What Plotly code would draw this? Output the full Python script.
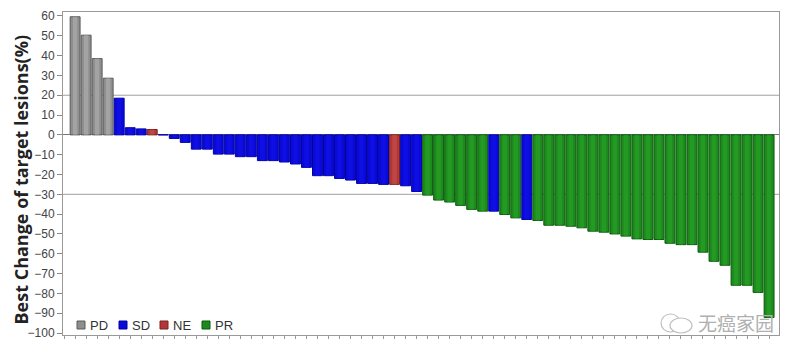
import plotly.graph_objects as go

# ---- data ----
values = [
    59.6, 50.3, 38.5, 28.6,
    18.5, 3.6, 3.0, 2.7, 0.0,
    -1.8, -3.8, -7.2, -7.2, -9.7, -9.7, -11.0, -11.0, -13.0, -13.0,
    -13.7, -14.7, -16.4, -20.6, -20.6, -22.0, -22.8, -24.5, -24.5, -25.0,
    -25.0, -25.7, -28.6,
    -30.4, -32.9, -33.9, -35.6, -37.6, -38.5, -38.5, -40.2, -41.9, -42.7,
    -43.2, -45.6, -45.6, -46.1, -46.9, -48.6, -49.1, -50.0, -51.1, -52.5,
    -52.8, -52.8, -54.7, -55.4, -55.4, -59.2, -63.8, -65.8, -75.9, -75.9,
    -79.5, -92.2,
]
response = (
    ["PD"] * 4
    + ["SD", "SD", "SD", "NE", "SD"]
    + ["SD"] * 20 + ["NE", "SD", "SD"]
    + ["PR"] * 6 + ["SD", "PR", "PR", "SD"] + ["PR"] * 22
)
patients = list(range(len(values)))
categories = ["PD", "SD", "NE", "PR"]
y_ticks = list(range(-100, 61, 10))
threshold_lines = [20, -30]

edge_colors = {"PD": "#5a5a5a", "SD": "#0000a8", "NE": "#7a2020", "PR": "#0b5a0b"}
fill_colors = {"PD": "#8e8e8e", "SD": "#0a0ad8", "NE": "#b23838", "PR": "#1d8a1d"}
light_colors = {"PD": "#b4b4b4", "SD": "#1414ee", "NE": "#cc5050", "PR": "#2aa82a"}

# page offset (default body margin) and plot-area geometry in page pixels
OFF = 8
W, H = 800 - 2 * OFF, 358 - 2 * OFF
PL, PR_, PT, PB = 63, 779, 12, 335
PW, PH = PR_ - PL, PB - PT

fig = go.Figure()
fig.add_trace(go.Bar(
    x=patients, y=values, width=0.9,
    marker=dict(color=[fill_colors[r] for r in response],
                line=dict(color=[edge_colors[r] for r in response], width=1)),
    showlegend=False, hoverinfo="skip",
))
fig.add_trace(go.Bar(
    x=patients, y=values, width=0.4,
    marker=dict(color=[light_colors[r] for r in response], line=dict(width=0),
                opacity=0.55),
    showlegend=False, hoverinfo="skip",
))

for t in threshold_lines:
    fig.add_hline(y=t, line=dict(color="#a0a0a0", width=1), layer="below")

# custom compact legend (bottom-left, inside plot)
leg_x = [77, 119, 160, 202]
for cat, lx in zip(categories, leg_x):
    x0 = (lx - PL) / PW
    fig.add_shape(type="rect", xref="paper", yref="paper",
                  x0=x0, x1=x0 + 8 / PW, y0=(PB - 329) / PH, y1=(PB - 321) / PH,
                  fillcolor=fill_colors[cat], line=dict(color=edge_colors[cat], width=1))
    fig.add_annotation(xref="paper", yref="paper", x=x0 + 11 / PW, y=(PB - 325) / PH,
                       text=cat, showarrow=False, xanchor="left", yanchor="middle",
                       font=dict(family="Liberation Sans, Arial", size=13, color="#333"))

# watermark
fig.add_shape(type="circle", xref="paper", yref="paper",
              x0=(661 - PL) / PW, x1=(680 - PL) / PW, y0=(PB - 332) / PH, y1=(PB - 314) / PH,
              line=dict(color="#c0c0c0", width=1.2), fillcolor="rgba(0,0,0,0)")
fig.add_shape(type="circle", xref="paper", yref="paper",
              x0=(670 - PL) / PW, x1=(692 - PL) / PW, y0=(PB - 333) / PH, y1=(PB - 318) / PH,
              line=dict(color="#c0c0c0", width=1.2), fillcolor="white")
fig.add_annotation(xref="paper", yref="paper", x=(696 - PL) / PW, y=(PB - 322) / PH,
                   text="无癌家园", showarrow=False, xanchor="left", yanchor="middle",
                   font=dict(family="Noto Sans CJK SC", size=19, color="#b0b0b0"))

# y-axis title as a rotated annotation
fig.add_annotation(xref="paper", yref="paper", x=(20.5 - PL) / PW, y=(PB - 180) / PH,
                   text="Best Change of target lesions(%)", showarrow=False, textangle=-90,
                   xanchor="center", yanchor="middle",
                   font=dict(family="Open Sans", size=18, color="#222", weight="bold"))

fig.update_layout(
    width=W, height=H,
    margin=dict(l=PL - OFF, r=W - (PR_ - OFF), t=PT - OFF, b=H - (PB - OFF),
                autoexpand=False),
    paper_bgcolor="white", plot_bgcolor="white",
    barmode="overlay", bargap=0.08,
    showlegend=False,
    font=dict(family="Liberation Sans, Arial", color="#444"),
)
fig.update_xaxes(
    range=[-1.1, 63.9], showgrid=False, zeroline=False, automargin=False,
    showline=True, linecolor="#999", linewidth=1, mirror=True,
    tickmode="linear", tick0=0, dtick=1, ticks="outside", ticklen=3,
    tickcolor="#999", showticklabels=False,
)
fig.update_yaxes(
    range=[-101, 62], tickvals=y_ticks, showgrid=False, automargin=False,
    zeroline=True, zerolinecolor="#777", zerolinewidth=1,
    showline=True, linecolor="#999", linewidth=1, mirror=True,
    ticks="outside", ticklen=5, tickcolor="#888",
    tickfont=dict(family="Liberation Sans, Arial", size=12, color="#444"),
)

fig.write_html("out.html")
